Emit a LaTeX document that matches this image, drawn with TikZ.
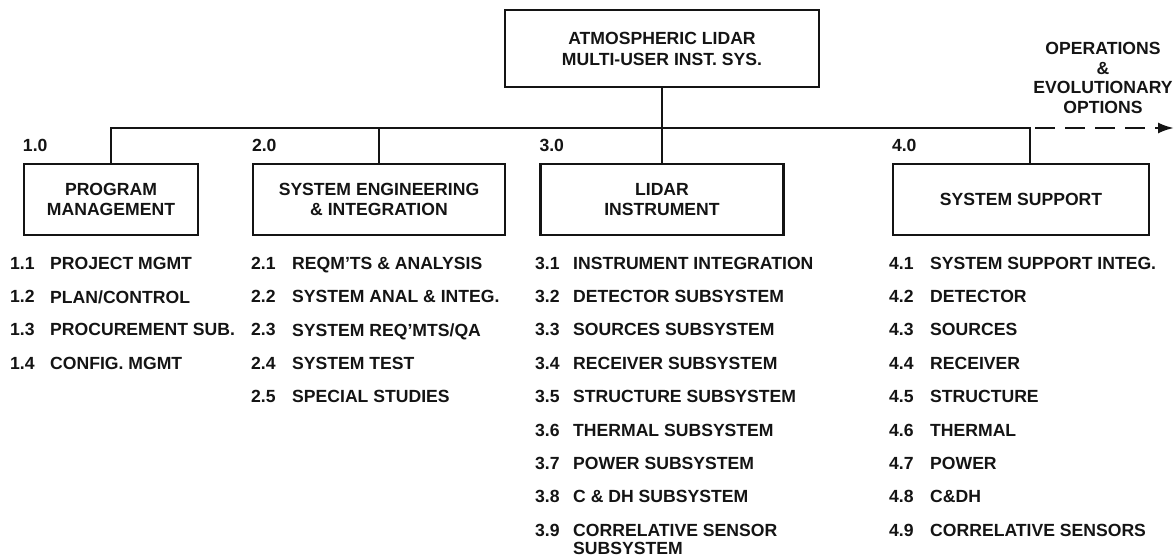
\documentclass[tikz,border=0pt]{standalone}
\usepackage{fontspec}
\setmainfont{Liberation Sans}
\usetikzlibrary{arrows.meta,positioning}

\newcommand{\wbsfont}{\fontsize{17.6}{19.5}\selectfont\bfseries}

\begin{document}
\begin{tikzpicture}[x=1pt, y=-1pt,
  wbsbox/.style={draw=inkline, line width=2.4pt, align=center, inner sep=0pt,
    minimum height=71pt, font=\wbsfont, text=inkline},
  link/.style={draw=inkline, line width=2.4pt},
  wbsnum/.style={font=\wbsfont, text=inkline, inner sep=0pt},
  itemtxt/.style={font=\wbsfont, text=inkline, inner sep=0pt, align=left, anchor=north west}]

% === Colors ===
\definecolor{inkline}{RGB}{20,20,20}

\useasboundingbox (0,0) rectangle (1176,559);

% === Top level ===
\node[wbsbox, minimum width=314pt, minimum height=76.5pt,
  font=\fontsize{17.6}{21}\selectfont\bfseries] (alm) at (662,48.5)
  {ATMOSPHERIC LIDAR\\MULTI-USER INST. SYS.};

% === Second level boxes ===
\node[wbsbox, minimum width=174pt] (pm)  at (111,199.5)  {PROGRAM\\MANAGEMENT};
\node[wbsbox, minimum width=252pt] (sei) at (379,199.5)  {SYSTEM ENGINEERING\\\& INTEGRATION};
\node[wbsbox, minimum width=243pt] (li)  at (662,199.5)  {LIDAR\\INSTRUMENT};
\node[wbsbox, minimum width=256pt] (ss)  at (1021,199.5) {SYSTEM SUPPORT};

% === Box numbers ===
\node[wbsnum, above right=11pt and 0pt of pm.north west]  (pmno)  {1.0};
\node[wbsnum, above right=11pt and 0pt of sei.north west] (seino) {2.0};
\node[wbsnum, above right=11pt and 0pt of li.north west]  (lino)  {3.0};
\node[wbsnum, above right=11pt and 0pt of ss.north west]  (ssno)  {4.0};

% === Tree lines ===
\coordinate (bus) at (0,128);
\coordinate (ssin) at ([xshift=9pt]ss.north);
\coordinate (optend) at (1174,128);
\draw[link] (pm.north) |- (ssin |- bus) -- (ssin);
\draw[link] (sei.north) -- (sei.north |- bus);
\draw[link] (alm.south) -- (li.north);
\draw[link, dash pattern=on 20pt off 10pt, dash phase=25pt,
  -{Latex[length=16pt,width=11pt]}] (ssin |- bus) -- (optend);

\node[wbsnum, align=center] (opt) at (1103,78)
  {OPERATIONS\\\&\\EVOLUTIONARY\\OPTIONS};

% === Work package lists ===
\def\rowtop{256.7}
\def\rowgap{33.4}

\foreach \num/\txt [count=\i] in {
  1.1/PROJECT MGMT,
  1.2/{PLAN/CONTROL},
  1.3/PROCUREMENT SUB.,
  1.4/CONFIG. MGMT
}{
  \node[itemtxt] (pmn\i) at (10,{\rowtop+\rowgap*(\i-1)}) {\num};
  \node[itemtxt] (pmt\i) at (50,{\rowtop+\rowgap*(\i-1)}) {\txt};
}

\foreach \num/\txt [count=\i] in {
  2.1/REQM'TS \& ANALYSIS,
  2.2/SYSTEM ANAL \& INTEG.,
  2.3/{SYSTEM REQ'MTS/QA},
  2.4/SYSTEM TEST,
  2.5/SPECIAL STUDIES
}{
  \node[itemtxt] (sein\i) at (251,{\rowtop+\rowgap*(\i-1)}) {\num};
  \node[itemtxt] (seit\i) at (292,{\rowtop+\rowgap*(\i-1)}) {\txt};
}

\foreach \num/\txt [count=\i] in {
  3.1/INSTRUMENT INTEGRATION,
  3.2/DETECTOR SUBSYSTEM,
  3.3/SOURCES SUBSYSTEM,
  3.4/RECEIVER SUBSYSTEM,
  3.5/STRUCTURE SUBSYSTEM,
  3.6/THERMAL SUBSYSTEM,
  3.7/POWER SUBSYSTEM,
  3.8/C \& DH SUBSYSTEM
}{
  \node[itemtxt] (lin\i) at (535,{\rowtop+\rowgap*(\i-1)}) {\num};
  \node[itemtxt] (lit\i) at (573,{\rowtop+\rowgap*(\i-1)}) {\txt};
}
% two-line item
\node[itemtxt, font=\fontsize{17.6}{18}\selectfont\bfseries] (lin9) at (535,{\rowtop+\rowgap*8}) {3.9};
\node[itemtxt, font=\fontsize{17.6}{18}\selectfont\bfseries] (lit9) at (573,{\rowtop+\rowgap*8})
  {CORRELATIVE SENSOR\\SUBSYSTEM};

\foreach \num/\txt [count=\i] in {
  4.1/SYSTEM SUPPORT INTEG.,
  4.2/DETECTOR,
  4.3/SOURCES,
  4.4/RECEIVER,
  4.5/STRUCTURE,
  4.6/THERMAL,
  4.7/POWER,
  4.8/C\&DH,
  4.9/CORRELATIVE SENSORS
}{
  \node[itemtxt] (ssn\i) at (889,{\rowtop+\rowgap*(\i-1)}) {\num};
  \node[itemtxt] (sst\i) at (930,{\rowtop+\rowgap*(\i-1)}) {\txt};
}

\end{tikzpicture}
\end{document}
